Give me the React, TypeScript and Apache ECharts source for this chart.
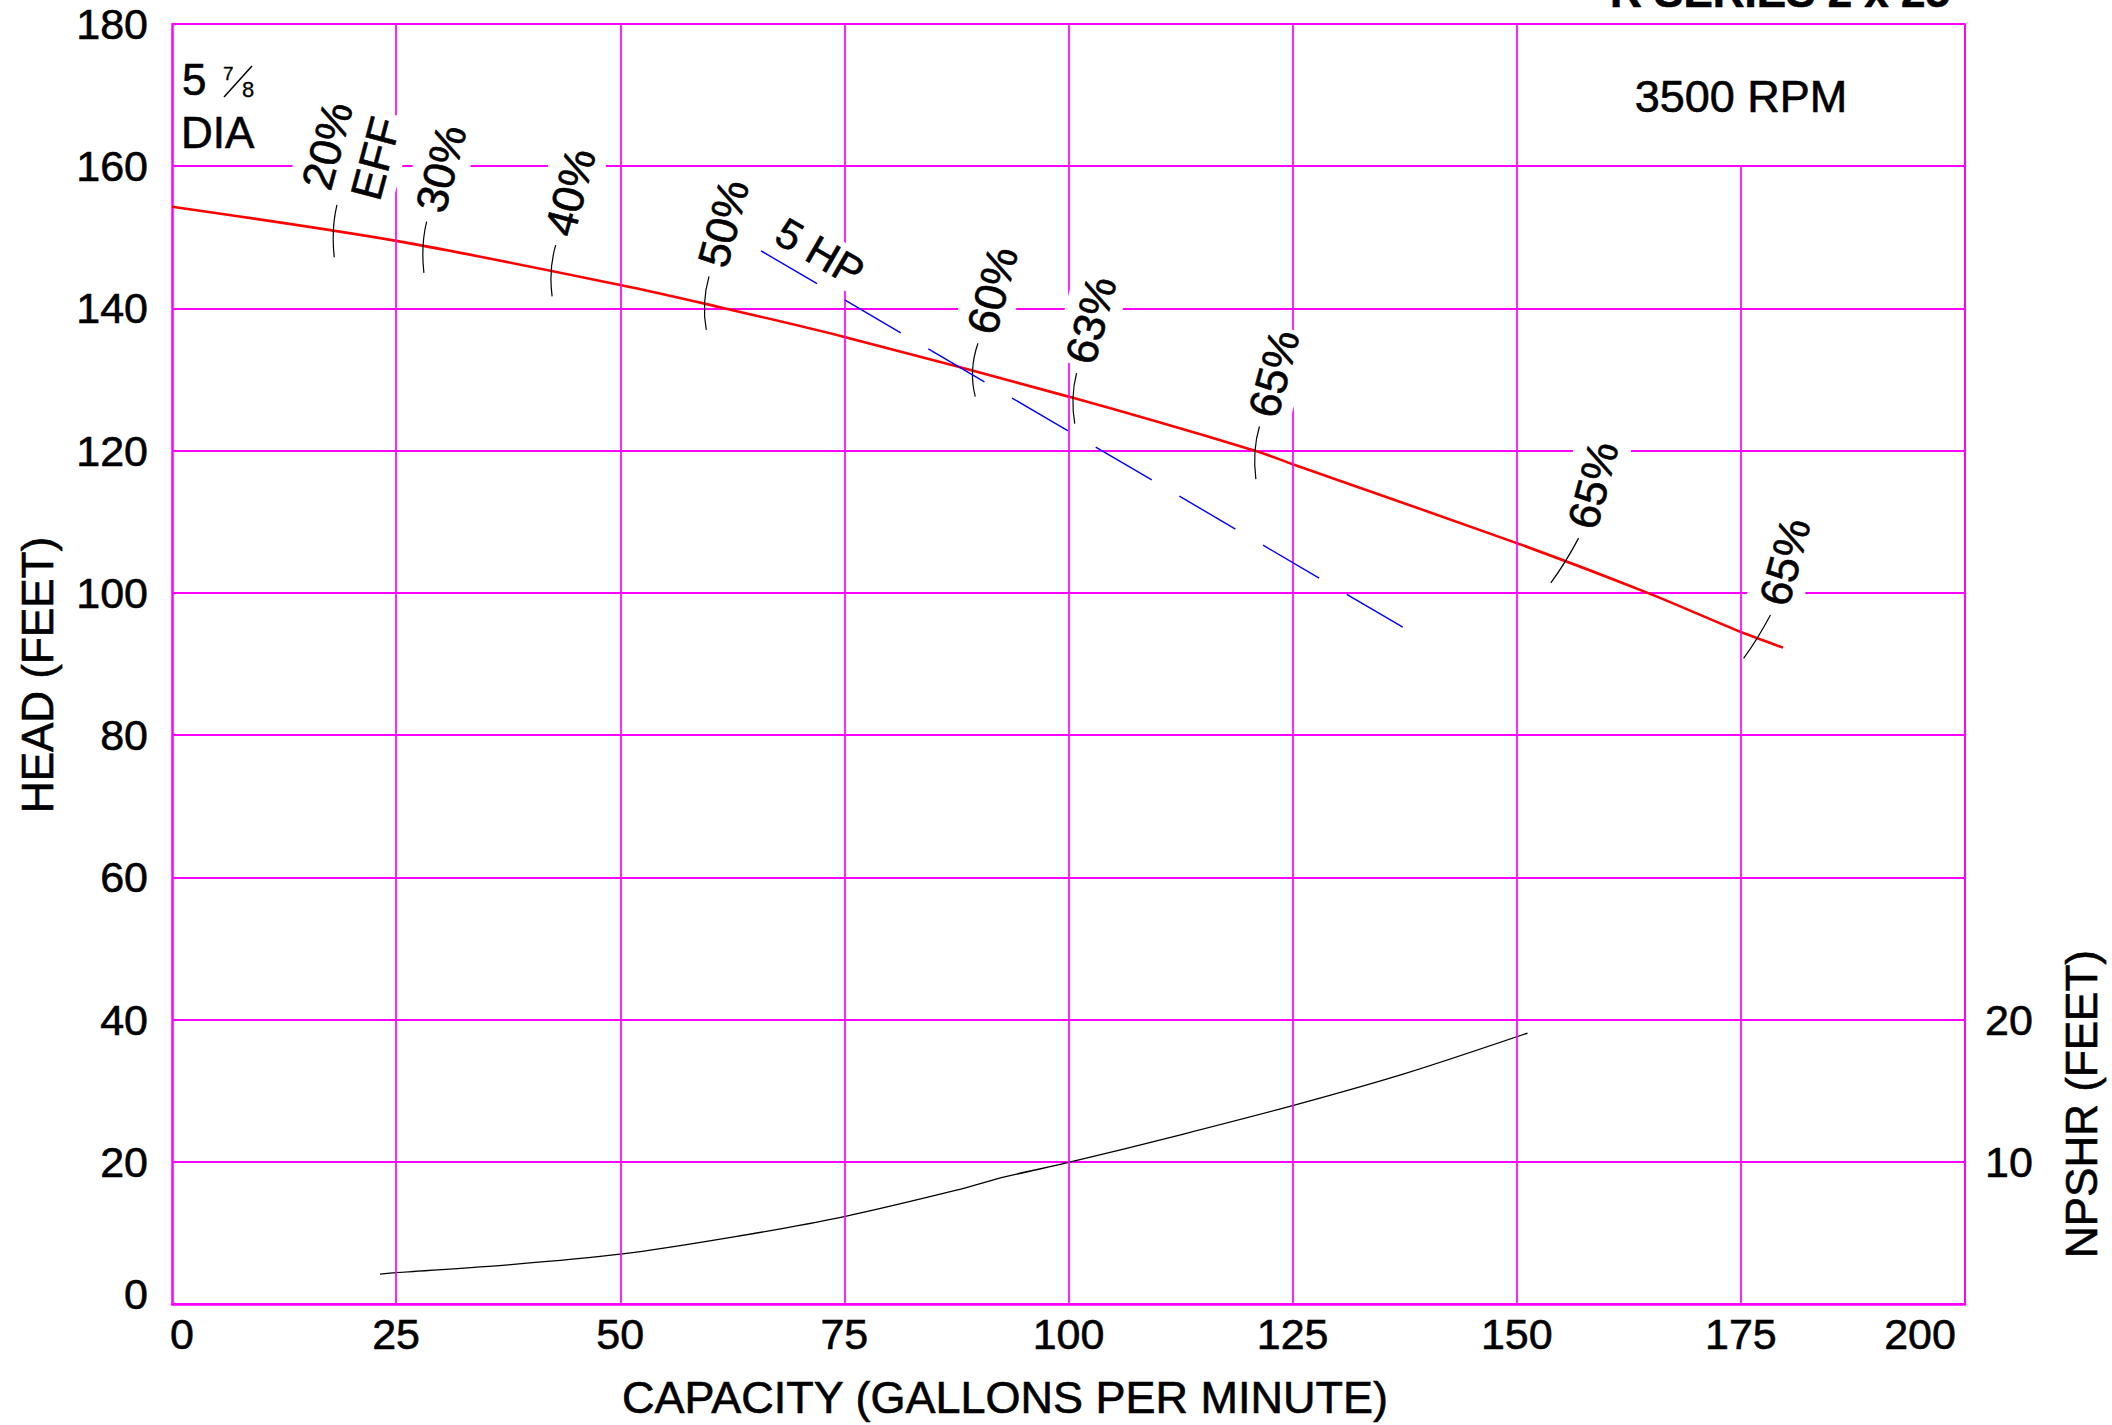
import React, { useEffect, useRef } from 'react';
import * as echarts from 'echarts';

// ---- data ----
const capacityMin = 0;
const capacityMax = 200;
const capacityStep = 25;
const headMin = 0;
const headMax = 180;
const headStep = 20;
const npshrMax = 90;
const npshrStep = 10;
const npshrShownTicks = [10, 20];

// head-capacity curve (5 7/8 dia)
const headQ = [0, 25, 50, 60, 75, 100, 120.8, 125, 150, 164.6, 175, 179.7];
const headFt = [154.3, 149.5, 143.3, 140.5, 136.0, 127.6, 120.0, 118.1, 107.0, 100.0, 94.5, 92.3];

// NPSHR curve (right axis)
const npshrQ = [23.2, 25, 37.5, 50, 62.5, 75, 87.5, 93, 100, 112.5, 125, 137.5, 151.2];
const npshrFt = [2.1, 2.2, 2.75, 3.5, 4.7, 6.15, 8.0, 8.95, 9.95, 11.9, 13.95, 16.2, 19.05];

// 5 HP limit line
const hpQ = [65.7, 137.4];
const hpHead = [148.1, 95.1];
const hpLabel = '5 HP';

// efficiency marks crossing the head curve
const effLabels = ['20%\nEFF', '30%', '40%', '50%', '60%', '63%', '65%', '65%', '65%'];
const effTop = [[18.4, 154.55], [28.4, 152.2], [42.8, 148.9], [59.9, 144.5], [89.9, 135.1], [100.9, 130.9], [121.3, 123.4], [156.9, 107.7], [178.3, 96.9]];
const effMid = [[18.0, 151.0], [28.0, 148.7], [42.3, 145.4], [59.4, 140.7], [89.3, 131.3], [100.5, 127.4], [120.8, 119.9], [155.4, 104.4], [176.8, 93.6]];
const effBot = [[18.1, 147.2], [28.1, 145.0], [42.4, 141.7], [59.6, 137.0], [89.6, 127.6], [100.7, 123.8], [120.9, 116.0], [153.8, 101.4], [175.3, 90.8]];

// vertical grid lines
const vGridFull = [25, 50, 75, 100, 125, 150];
const vGridPartial = [[175, 160]]; // [capacity, top head]

const FONT = 'Liberation Sans, Arial, sans-serif';
const MAGENTA = '#ff00ff';
const TB = { textBorderColor: '#000', textBorderWidth: 0.6 };

export default function App() {
  const ref = useRef<HTMLDivElement>(null);

  useEffect(() => {
    if (!ref.current) return;
    const chart = echarts.init(ref.current, null, { renderer: 'svg' });

    const headData = headQ.map((q, i) => [q, headFt[i]]);
    const npshrData = npshrQ.map((q, i) => [q, npshrFt[i]]);
    const hpData = hpQ.map((q, i) => [q, hpHead[i]]);
    const effData = effTop.map((t, i) => [t[0], t[1], effMid[i][0], effMid[i][1], effBot[i][0], effBot[i][1]]);

    const markLines: any[] = vGridFull.map((q) => ({ xAxis: q }));
    vGridPartial.forEach(([q, top]) => {
      markLines.push([{ coord: [q, headMin] }, { coord: [q, top] }]);
    });

    const labelStyle = { fontSize: 43, fontFamily: FONT, color: '#000', ...TB };
    const ang = (75 * Math.PI) / 180;
    const txt = (extra: any) => ({ fontFamily: FONT, fill: '#000', align: 'center', verticalAlign: 'middle', stroke: '#000', lineWidth: 0.6, ...extra });

    const option: any = {
      animation: false,
      backgroundColor: '#ffffff',
      grid: { left: 172, right: 147, top: 24, bottom: 121, containLabel: false, outerBoundsMode: 'none' },
      xAxis: {
        type: 'value',
        min: capacityMin,
        max: capacityMax,
        interval: capacityStep,
        axisLine: { show: true, lineStyle: { color: MAGENTA, width: 2.5 } },
        axisTick: { show: false },
        splitLine: { show: false },
        axisLabel: {
          ...labelStyle,
          margin: 8,
          hideOverlap: false,
          showMinLabel: true,
          showMaxLabel: true,
          formatter: (v: number) => (v === capacityMin ? '{l|' + v + '}' : v === capacityMax ? '{r|' + v + '}' : String(v)),
          rich: {
            l: { ...labelStyle, padding: [0, 0, 0, 20] },
            r: { ...labelStyle, padding: [0, 90, 0, 0] },
          },
        },
      },
      yAxis: [
        {
          type: 'value',
          min: headMin,
          max: headMax,
          interval: headStep,
          axisLine: { show: true, lineStyle: { color: MAGENTA, width: 2.5 } },
          axisTick: { show: false },
          splitLine: { show: true, lineStyle: { color: MAGENTA, width: 2 } },
          axisLabel: {
            ...labelStyle,
            margin: 24,
            hideOverlap: false,
            showMinLabel: true,
            showMaxLabel: true,
            formatter: (v: number) => (v === headMin ? '{z|' + v + '}' : String(v)),
            rich: { z: { ...labelStyle, padding: [0, 0, 20, 0] } },
          },
        },
        {
          type: 'value',
          position: 'right',
          min: 0,
          max: npshrMax,
          interval: npshrStep,
          axisLine: { show: true, lineStyle: { color: MAGENTA, width: 2 } },
          axisTick: { show: false },
          splitLine: { show: false },
          axisLabel: {
            ...labelStyle,
            margin: 20,
            hideOverlap: false,
            formatter: (v: number) => (npshrShownTicks.indexOf(v) >= 0 ? String(v) : ''),
          },
        },
      ],
      series: [
        {
          type: 'line',
          name: 'grid',
          data: [],
          z: 1,
          silent: true,
          markLine: {
            silent: true,
            symbol: ['none', 'none'],
            label: { show: false },
            lineStyle: { color: MAGENTA, width: 1.7, type: 'solid' },
            emphasis: { disabled: true },
            data: markLines,
          },
        },
        {
          type: 'line',
          name: 'HEAD',
          data: headData,
          smooth: 0.3,
          showSymbol: false,
          symbol: 'none',
          z: 3,
          lineStyle: { color: '#ff0000', width: 2.6 },
        },
        {
          type: 'line',
          name: 'NPSHR',
          yAxisIndex: 1,
          data: npshrData,
          smooth: 0.3,
          showSymbol: false,
          symbol: 'none',
          z: 3,
          lineStyle: { color: '#000000', width: 1.3 },
        },
        {
          type: 'custom',
          name: 'EFF',
          data: effData,
          z: 5,
          clip: false,
          encode: { x: [0, 2, 4], y: [1, 3, 5] },
          renderItem: (params: any, api: any) => {
            const i = params.dataIndex;
            const t = api.coord([api.value(0), api.value(1)]);
            const m = api.coord([api.value(2), api.value(3)]);
            const b = api.coord([api.value(4), api.value(5)]);
            const cpx = 2 * m[0] - 0.5 * (t[0] + b[0]);
            const cpy = 2 * m[1] - 0.5 * (t[1] + b[1]);
            const cx = t[0] + 55 * Math.cos(ang);
            const cy = t[1] - 55 * Math.sin(ang);
            return {
              type: 'group',
              children: [
                {
                  type: 'bezierCurve',
                  shape: { x1: t[0], y1: t[1], x2: b[0], y2: b[1], cpx1: cpx, cpy1: cpy },
                  style: { stroke: '#000', lineWidth: 1.2, fill: null },
                },
                {
                  type: 'text',
                  x: cx,
                  y: cy,
                  rotation: ang,
                  style: {
                    text: effLabels[i],
                    fontSize: 44,
                    fontFamily: FONT,
                    fill: '#000',
                    stroke: '#000',
                    lineWidth: 0.6,
                    align: 'center',
                    verticalAlign: 'middle',
                    lineHeight: 50,
                    backgroundColor: '#fff',
                    padding: [3, 3, 3, 3],
                  },
                },
              ],
            };
          },
        },
        {
          type: 'line',
          name: '5 HP',
          data: hpData,
          showSymbol: false,
          symbol: 'none',
          z: 6,
          lineStyle: { color: '#0000ff', width: 1.4, type: [65, 32] },
        },
        {
          type: 'custom',
          name: 'HP label',
          data: [hpData[0]],
          z: 5,
          clip: false,
          encode: { x: 0, y: 1 },
          renderItem: (params: any, api: any) => {
            const p = api.coord([api.value(0), api.value(1)]);
            return {
              type: 'text',
              x: p[0] + 59,
              y: p[1] + 1.5,
              rotation: (-30 * Math.PI) / 180,
              style: {
                text: hpLabel,
                fontSize: 42,
                fontFamily: FONT,
                fill: '#000',
                stroke: '#000',
                lineWidth: 0.6,
                align: 'center',
                verticalAlign: 'middle',
                backgroundColor: '#fff',
                padding: [0, 4, 0, 4],
              },
            };
          },
        },
      ],
      graphic: [
        { type: 'text', x: 1780, y: -9, style: txt({ text: 'R SERIES 2 x 25', fontSize: 44, fontWeight: 'bold' }) },
        { type: 'text', x: 1741, y: 96, style: txt({ text: '3500 RPM', fontSize: 45 }) },
        { type: 'text', x: 182, y: 79, style: txt({ text: '5', fontSize: 44, align: 'left' }) },
        { type: 'text', x: 223, y: 73, style: txt({ text: '7', fontSize: 19, align: 'left', lineWidth: 0.3 }) },
        { type: 'line', shape: { x1: 224, y1: 97, x2: 252, y2: 66 }, style: { stroke: '#000', lineWidth: 1.5 } },
        { type: 'text', x: 242, y: 89, style: txt({ text: '8', fontSize: 22, align: 'left', lineWidth: 0.3 }) },
        { type: 'text', x: 181, y: 132, style: txt({ text: 'DIA', fontSize: 44, align: 'left' }) },
        { type: 'text', x: 37, y: 675, rotation: Math.PI / 2, style: txt({ text: 'HEAD (FEET)', fontSize: 44 }) },
        { type: 'text', x: 2081, y: 1104, rotation: Math.PI / 2, style: txt({ text: 'NPSHR (FEET)', fontSize: 44 }) },
        { type: 'text', x: 1005, y: 1397, style: txt({ text: 'CAPACITY (GALLONS PER MINUTE)', fontSize: 45 }) },
      ],
    };

    chart.setOption(option);
    return () => chart.dispose();
  }, []);

  return (
    <div
      ref={ref}
      style={{ position: 'fixed', left: 0, top: 0, width: 2112, height: 1425, background: '#fff' }}
    />
  );
}
